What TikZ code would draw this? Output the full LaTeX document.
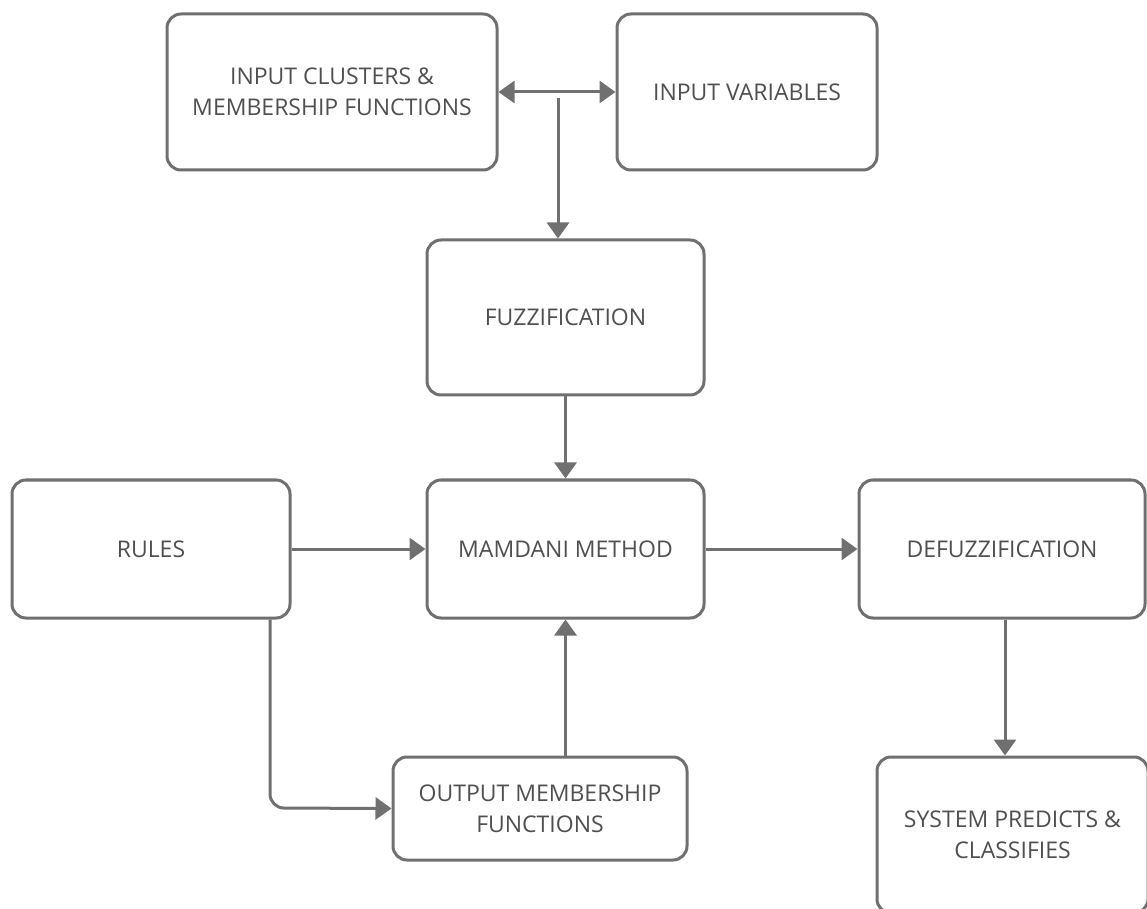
\documentclass[tikz,border=0pt]{standalone}
\usepackage{fontspec}
\setmainfont{Open Sans}
\usepackage[HTML]{xcolor}
\usetikzlibrary{positioning, arrows.meta}
\definecolor{linegray}{HTML}{707070}
\definecolor{textgray}{HTML}{4F4F4F}

\begin{document}
\begin{tikzpicture}[x=0.5pt,y=-0.5pt,
  box/.style={draw=linegray, line width=1.5pt, rounded corners=7pt, align=center,
    text=textgray, font=\fontsize{11.5}{15.5}\selectfont, inner sep=0pt},
  conn/.style={draw=linegray, line width=1.5pt, -{Triangle[length=8pt,width=11pt]}},
  dconn/.style={conn, {Triangle[length=8pt,width=11pt]}-{Triangle[length=8pt,width=11pt]}}]
\useasboundingbox (0,0) rectangle (1147,909);
% top row
\node[box, minimum width=165pt, minimum height=78pt] (INCL) at (332,92) {INPUT CLUSTERS \&\\MEMBERSHIP FUNCTIONS};
\node[box, minimum width=130pt, minimum height=78pt] (INVAR) at (747,92) {INPUT VARIABLES};
% middle column
\node[box, minimum width=138.5pt, minimum height=77.5pt] (FUZZ) at (565.5,317.5) {FUZZIFICATION};
\node[box, minimum width=138.5pt, minimum height=69pt] (MAM) at (565.5,549) {MAMDANI METHOD};
\node[box, minimum width=139pt, minimum height=69pt] (RULES) at (151,549) {RULES};
\node[box, minimum width=143pt, minimum height=69pt] (DEFUZZ) at (1002,549) {DEFUZZIFICATION};
% bottom row
\node[box, minimum width=147pt, minimum height=51.5pt] (OUTMF) at (540,808.5) {OUTPUT MEMBERSHIP\\FUNCTIONS};
\node[box, minimum width=135.5pt, minimum height=78pt] (SYS) at (1012.5,835) {SYSTEM PREDICTS \&\\CLASSIFIES};
% connectors
\draw[dconn] (INCL.east |- 0,92) -- (INVAR.west |- 0,92);
\coordinate (split) at (558,98);
\draw[conn] (split) -- (split |- FUZZ.north);
\draw[conn] (FUZZ.south) -- (MAM.north);
\draw[conn] (RULES.east) -- (MAM.west);
\draw[conn] (MAM.east) -- (DEFUZZ.west);
\draw[conn] (OUTMF.north -| MAM.south) -- (MAM.south);
\draw[conn, rounded corners=7pt] (270,0 |- RULES.south) -- (270,808) -- (OUTMF.west);
\draw[conn] (DEFUZZ.south -| 1005,0) -- (SYS.north -| 1005,0);
\end{tikzpicture}
\end{document}
